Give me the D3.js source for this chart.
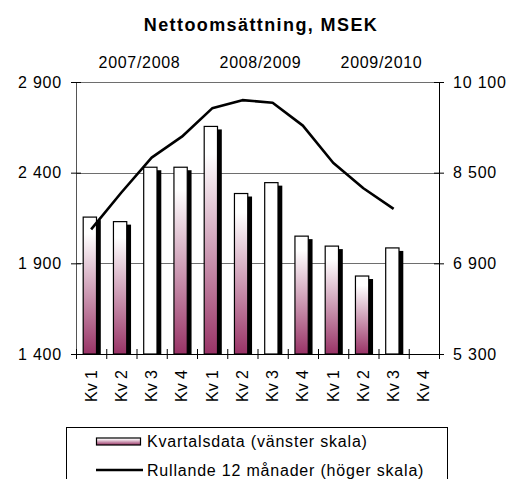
<!DOCTYPE html>
<html>
<head>
<meta charset="utf-8">
<script src="https://cdn.jsdelivr.net/npm/d3@7"></script>
<style>
  html, body { margin: 0; padding: 0; background: #fff; }
  svg { display: block; font-family: "Liberation Sans", Arial, sans-serif; }
</style>
</head>
<body>
<div id="chart"></div>
<script>
const quarters = ["Kv 1", "Kv 2", "Kv 3", "Kv 4", "Kv 1", "Kv 2", "Kv 3", "Kv 4", "Kv 1", "Kv 2", "Kv 3", "Kv 4"];
const periods = ["2007/2008", "2008/2009", "2009/2010"];
const quarterly = [2155, 2130, 2430, 2430, 2655, 2285, 2345, 2050, 1995, 1830, 1985, null];
const rolling = [7500, 8150, 8765, 9135, 9635, 9780, 9735, 9330, 8675, 8225, 7860, null];
const leftTicks = [1400, 1900, 2400, 2900];
const rightTicks = [5300, 6900, 8500, 10100];

const width = 522;
const height = 479;
const margin = { top: 82, right: 83, bottom: 125, left: 76 };
const plotW = width - margin.left - margin.right;
const plotB = height - margin.bottom;

const fmt = d3.formatLocale({ decimal: ",", thousands: " ", grouping: [3], currency: ["", ""] }).format(",d");

const svg = d3.select("#chart").append("svg")
  .attr("width", width)
  .attr("height", height);

const defs = svg.append("defs");
const grad = defs.append("linearGradient")
  .attr("id", "barGrad")
  .attr("x1", 0).attr("y1", 0).attr("x2", 0).attr("y2", 1);
grad.append("stop").attr("offset", "0%").attr("stop-color", "#ffffff");
grad.append("stop").attr("offset", "12%").attr("stop-color", "#ffffff");
grad.append("stop").attr("offset", "100%").attr("stop-color", "#993366");

const x = d3.scaleBand()
  .domain(d3.range(quarters.length))
  .range([margin.left, margin.left + plotW])
  .padding(0);

const xEdge = d3.scaleLinear()
  .domain([0, quarters.length])
  .range([margin.left, margin.left + plotW]);

const yLeft = d3.scaleLinear().domain([1400, 2900]).range([plotB, margin.top]);
const yRight = d3.scaleLinear().domain([5300, 10100]).range([plotB, margin.top]);

// Title
svg.append("text")
  .attr("x", width / 2)
  .attr("y", 31)
  .attr("text-anchor", "middle")
  .attr("font-size", "18px")
  .attr("font-weight", "bold")
  .attr("letter-spacing", "1.4px")
  .text("Nettoomsättning, MSEK");

// Period labels over each group of four quarters
svg.append("g").selectAll("text")
  .data(periods)
  .join("text")
  .attr("x", (d, i) => (xEdge(i * 4) + xEdge(i * 4 + 4)) / 2 + 3)
  .attr("y", 68)
  .attr("text-anchor", "middle")
  .attr("font-size", "16px")
  .attr("letter-spacing", "0.7px")
  .text(d => d);

// Gridlines
svg.append("g").selectAll("line")
  .data(leftTicks.filter(d => d > 1400))
  .join("line")
  .attr("x1", margin.left)
  .attr("x2", margin.left + plotW)
  .attr("y1", d => Math.round(yLeft(d)) + 0.5)
  .attr("y2", d => Math.round(yLeft(d)) + 0.5)
  .attr("stroke", "#6e6e6e")
  .attr("stroke-width", 1);

// Bars with shadow
const bars = svg.append("g");
const barData = quarterly.map((v, i) => ({ v, i })).filter(d => d.v != null);
const faceOff = 7.2, faceW = 13.3, shadowDx = 4.3, shadowDy = 3;

bars.selectAll("rect.shadow")
  .data(barData)
  .join("rect")
  .attr("class", "shadow")
  .attr("x", d => x(d.i) + faceOff + shadowDx)
  .attr("y", d => yLeft(d.v) + shadowDy)
  .attr("width", faceW)
  .attr("height", d => plotB - yLeft(d.v) - shadowDy)
  .attr("fill", "#000");

bars.selectAll("rect.face")
  .data(barData)
  .join("rect")
  .attr("class", "face")
  .attr("x", d => x(d.i) + faceOff)
  .attr("y", d => yLeft(d.v))
  .attr("width", faceW)
  .attr("height", d => plotB - yLeft(d.v))
  .attr("fill", d => quarters[d.i] === "Kv 3" ? "#ffffff" : "url(#barGrad)")
  .attr("stroke", "#000")
  .attr("stroke-width", 1.2);

// Rolling 12 months line
const line = d3.line()
  .defined(d => d != null)
  .x((d, i) => x(i) + x.bandwidth() / 2)
  .y(d => yRight(d));

svg.append("path")
  .datum(rolling)
  .attr("fill", "none")
  .attr("stroke", "#000")
  .attr("stroke-width", 2.6)
  .attr("stroke-linejoin", "round")
  .attr("d", line);

// Axes
const leftAxis = svg.append("g")
  .attr("transform", `translate(${margin.left},0)`)
  .call(d3.axisLeft(yLeft).tickValues(leftTicks).tickFormat(fmt).tickSize(5).tickSizeOuter(0).tickPadding(9));

const rightAxis = svg.append("g")
  .attr("transform", `translate(${margin.left + plotW},0)`)
  .call(d3.axisRight(yRight).tickValues(rightTicks).tickFormat(fmt).tickSize(5).tickSizeOuter(0).tickPadding(9));

const bottomAxis = svg.append("g")
  .attr("transform", `translate(0,${plotB})`)
  .call(d3.axisBottom(xEdge).tickValues(d3.range(quarters.length + 1)).tickFormat("").tickSize(5).tickSizeOuter(0));

leftAxis.selectAll(".tick line").attr("x1", 5);
rightAxis.selectAll(".tick line").attr("x1", -5);
bottomAxis.selectAll(".tick line").attr("y1", -5);

[leftAxis, rightAxis, bottomAxis].forEach(g => {
  g.select(".domain").attr("stroke", "#000");
  g.selectAll(".tick line").attr("stroke", "#000");
  g.selectAll(".tick text")
    .attr("font-family", "Liberation Sans, Arial, sans-serif")
    .attr("font-size", "16px")
    .attr("letter-spacing", "0.8px")
    .attr("fill", "#000");
});
leftAxis.select(".domain").attr("stroke", "#555");

// Quarter labels, rotated
svg.append("g").selectAll("text")
  .data(quarters)
  .join("text")
  .attr("transform", (d, i) => `translate(${x(i) + x.bandwidth() / 2},370) rotate(-90)`)
  .attr("text-anchor", "end")
  .attr("dy", "0.35em")
  .attr("font-size", "16px")
  .text(d => d);

// Legend
const legend = svg.append("g");
legend.append("rect")
  .attr("x", 66.5)
  .attr("y", 427.5)
  .attr("width", 381)
  .attr("height", 80)
  .attr("fill", "#fff")
  .attr("stroke", "#000")
  .attr("stroke-width", 1);

legend.append("rect")
  .attr("x", 96.5)
  .attr("y", 438)
  .attr("width", 44)
  .attr("height", 7)
  .attr("fill", "url(#barGrad)")
  .attr("stroke", "#000")
  .attr("stroke-width", 1.2);

legend.append("line")
  .attr("x1", 96)
  .attr("x2", 143)
  .attr("y1", 470)
  .attr("y2", 470)
  .attr("stroke", "#000")
  .attr("stroke-width", 2.6);

legend.selectAll("text.lbl")
  .data(["Kvartalsdata (vänster skala)", "Rullande 12 månader (höger skala)"])
  .join("text")
  .attr("class", "lbl")
  .attr("x", 147)
  .attr("y", (d, i) => 447 + i * 29)
  .attr("font-size", "16px")
  .attr("letter-spacing", "0.8px")
  .text(d => d);
</script>
</body>
</html>
